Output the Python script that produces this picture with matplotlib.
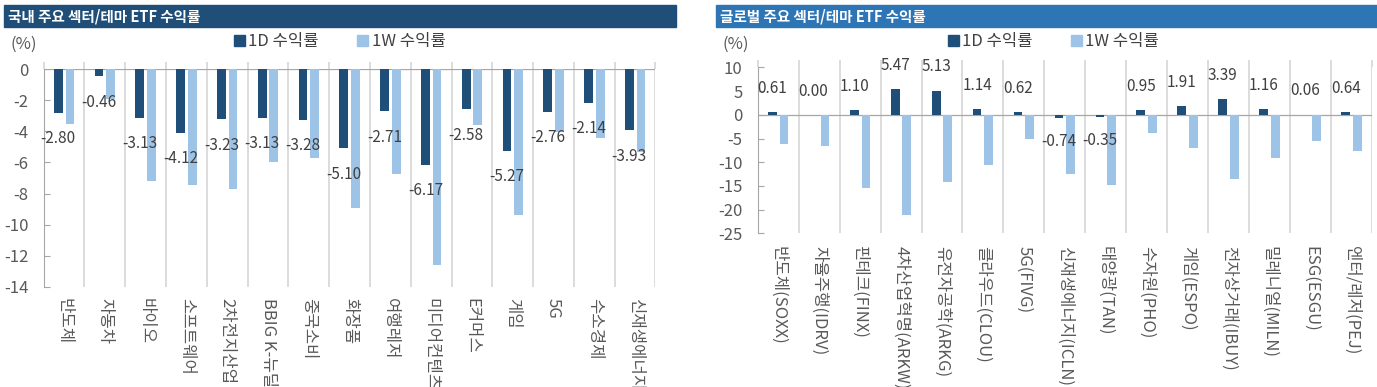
import matplotlib
matplotlib.use('Agg')
import matplotlib.pyplot as plt
from matplotlib.patches import Rectangle, Patch
import numpy as np

plt.rcParams['font.family'] = ['Noto Sans CJK KR', 'DejaVu Sans']
plt.rcParams['axes.unicode_minus'] = False

# 국내 주요 섹터/테마 ETF
kr_labels = ['반도체', '자동차', '바이오', '소프트웨어', '2차전지산업', 'BBIG K-뉴딜', '중국소비', '화장품',
             '여행레저', '미디어컨텐츠', 'E커머스', '게임', '5G', '수소경제', '신재생에너지']
kr_1d = [-2.80, -0.46, -3.13, -4.12, -3.23, -3.13, -3.28, -5.10, -2.71, -6.17, -2.58, -5.27, -2.76, -2.14, -3.93]
kr_1w = [-3.5, -1.9, -7.2, -7.45, -7.7, -5.95, -5.72, -8.9, -6.73, -12.6, -3.6, -9.4, -4.05, -4.4, -5.3]
kr_yticks = [0, -2, -4, -6, -8, -10, -12, -14]

# 글로벌 주요 섹터/테마 ETF
gl_labels = ['반도체(SOXX)', '자율주행(IDRV)', '핀테크(FINX)', '4차산업혁명(ARKW)', '유전자공학(ARKG)',
             '클라우드(CLOU)', '5G(FIVG)', '신재생에너지(ICLN)', '태양광(TAN)', '수자원(PHO)', '게임(ESPO)',
             '전자상거래(IBUY)', '밀레니얼(MILN)', 'ESG(ESGU)', '엔터/레저(PEJ)']
gl_1d = [0.61, 0.00, 1.10, 5.47, 5.13, 1.14, 0.62, -0.74, -0.35, 0.95, 1.91, 3.39, 1.16, 0.06, 0.64]
gl_1w = [-6.1, -6.6, -15.5, -21.2, -14.1, -10.6, -5.0, -12.5, -14.8, -3.8, -6.9, -13.6, -9.1, -5.5, -7.6]
gl_yticks = [10, 5, 0, -5, -10, -15, -20, -25]

DARK = '#1F4E79'
LIGHT = '#9DC3E6'
GRID = '#d9d9d9'
AXIS = '#a6a6a6'
TXT = '#404040'
TICK = '#595959'


def draw_panel(ax, labels, d1, w1, yticks, label_off, xlabel_pad):
    x = np.arange(len(labels))
    off = 0.143
    ax.bar(x - off, d1, width=0.215, color=DARK, zorder=3)
    ax.bar(x + off, w1, width=0.215, color=LIGHT, zorder=3)

    for xi, v in zip(x, d1):
        dy = label_off if v >= 0 else -label_off
        ax.annotate(f'{v:.2f}', (xi - off, v), xytext=(0, dy), textcoords='offset points',
                    ha='center', va='center', fontsize=11, color=TXT, zorder=5)

    ax.set_xlim(-0.5, len(labels) - 0.5)
    ax.set_ylim(min(yticks), max(yticks))
    ax.set_yticks(yticks)
    ax.set_yticklabels([str(t) for t in yticks])

    ax.set_xticks(np.arange(len(labels) + 1) - 0.5)
    ax.set_xticklabels([])
    ax.set_xticks(x, minor=True)
    ax.set_xticklabels(labels, minor=True, rotation=270, ha='center', va='top')
    ax.tick_params(axis='x', which='major', bottom=False, top=True, length=5, color=GRID, width=1.3)
    ax.tick_params(axis='x', which='minor', bottom=True, length=0, pad=xlabel_pad, labelsize=12,
                   labelcolor=TICK)
    ax.tick_params(axis='y', direction='in', length=4, color=AXIS, pad=11, labelsize=12, labelcolor=TICK)
    ax.grid(axis='x', which='major', color=GRID, linewidth=1.3, zorder=0)

    for s in ['top', 'right', 'bottom']:
        ax.spines[s].set_visible(False)
    ax.spines['left'].set_color(AXIS)
    ax.spines['left'].set_linewidth(0.8)
    ax.axhline(0, color=AXIS, linewidth=0.9, zorder=2)


fig = plt.figure(figsize=(13.77, 3.87), dpi=100)

ax1 = fig.add_axes([43.7 / 1377, 1 - 286.7 / 387, 611.8 / 1377, 217.4 / 387])
ax2 = fig.add_axes([757.7 / 1377, 1 - 233.3 / 387, 614.3 / 1377, 165.8 / 387])

draw_panel(ax1, kr_labels, kr_1d, kr_1w, kr_yticks, 18.5, 8)
draw_panel(ax2, gl_labels, gl_1d, gl_1w, gl_yticks, 17, 9)

handles = [Patch(color=DARK), Patch(color=LIGHT)]
names = ['1D 수익률', '1W 수익률']
for ax, pos in [(ax1, (0.484, 1.126)), (ax2, (0.4815, 1.154))]:
    leg = ax.legend(handles, names, ncol=2, loc='center', bbox_to_anchor=pos, frameon=False,
                    handlelength=0.65, handleheight=0.65, handletextpad=0.2, columnspacing=2.3,
                    fontsize=12, borderaxespad=0)
    for t in leg.get_texts():
        t.set_color(TXT)

# 제목 바
fig.patches.append(Rectangle((4 / 1377, 1 - 27 / 387), 672 / 1377, 22 / 387,
                             transform=fig.transFigure, color='#1F4E79', zorder=0))
fig.patches.append(Rectangle((716 / 1377, 1 - 27 / 387), 661 / 1377, 22 / 387,
                             transform=fig.transFigure, color='#2E75B6', zorder=0))
fig.text(8 / 1377, 1 - 16 / 387, '국내 주요 섹터/테마 ETF 수익률', color='white', fontsize=10.5,
         fontweight='bold', va='center', ha='left')
fig.text(720 / 1377, 1 - 16 / 387, '글로벌 주요 섹터/테마 ETF 수익률', color='white', fontsize=10.5,
         fontweight='bold', va='center', ha='left')

fig.text(10 / 1377, 1 - 44 / 387, '(%)', color=TICK, fontsize=12, va='center', ha='left')
fig.text(723 / 1377, 1 - 44 / 387, '(%)', color=TICK, fontsize=12, va='center', ha='left')

fig.savefig('out.png', dpi=100)
